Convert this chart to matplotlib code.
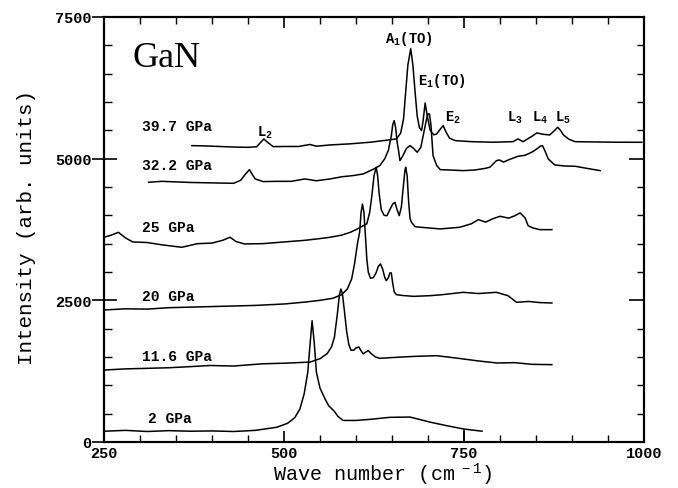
import numpy as np
import matplotlib.pyplot as plt
from matplotlib.ticker import MultipleLocator

plt.rcParams['mathtext.default'] = 'regular'
MONO = 'Liberation Mono'

# spectra (wave number, intensity incl. vertical offset)
x_2 = [250, 280, 310, 340, 370, 400, 430, 460, 490, 505, 515, 522, 528, 533, 536, 539,
       542, 545, 550, 557, 562, 566, 570, 575, 582, 600, 620, 647, 675, 703, 725, 749, 775]
y_2 = [190, 205, 185, 200, 190, 195, 185, 205, 260, 330, 430, 580, 850, 1230, 1700, 2140,
       1750, 1230, 950, 760, 640, 590, 540, 450, 380, 380, 400, 435, 440, 350, 290, 230, 190]

x_11 = [250, 280, 310, 340, 370, 397, 430, 470, 500, 536, 550, 560, 566, 570, 574, 577, 579,
        581, 584, 587, 590, 593, 597, 600, 604, 607, 610, 614, 617, 621, 627, 633, 650, 680,
        712, 740, 770, 796, 820, 845, 872]
y_11 = [1270, 1290, 1300, 1310, 1330, 1350, 1340, 1380, 1390, 1410, 1470, 1560, 1680, 1850,
        2250, 2600, 2700, 2620, 2300, 1950, 1720, 1620, 1620, 1660, 1675, 1610, 1555, 1590,
        1612, 1560, 1500, 1476, 1490, 1510, 1523, 1480, 1430, 1394, 1400, 1370, 1365]

x_20 = [250, 280, 310, 340, 370, 400, 430, 460, 501, 530, 550, 568, 580, 588, 594, 598, 602,
        605, 607, 609, 611, 613, 615, 617, 620, 624, 628, 631, 634, 637, 640, 642, 645, 647,
        649, 651, 653, 656, 665, 680, 703, 720, 749, 770, 795, 811, 823, 840, 855, 872]
y_20 = [2330, 2350, 2345, 2370, 2380, 2390, 2400, 2410, 2436, 2470, 2500, 2536, 2600, 2700,
        2880, 3150, 3500, 3700, 4050, 4200, 4050, 3650, 3230, 3000, 2890, 2900, 2990, 3100,
        3142, 3050, 2900, 2847, 2900, 2983, 2983, 2800, 2650, 2600, 2585, 2570, 2582, 2600,
        2641, 2620, 2641, 2582, 2465, 2480, 2460, 2453]

x_25 = [250, 260, 270, 280, 290, 310, 330, 358, 380, 400, 415, 425, 433, 445, 470, 500, 530,
        550, 564, 580, 592, 602, 610, 615, 619, 622, 625, 628, 630, 632, 635, 639, 643, 647,
        651, 654, 657, 660, 663, 666, 668, 669, 671, 673, 675, 677, 682, 690, 717, 744, 760,
        770, 780, 790, 800, 812, 820, 828, 835, 839, 845, 855, 872]
y_25 = [3613, 3650, 3700, 3600, 3530, 3520, 3480, 3436, 3500, 3510, 3560, 3613, 3540, 3495,
        3500, 3530, 3560, 3590, 3613, 3650, 3700, 3760, 3817, 3850, 4054, 4347, 4700, 4848,
        4700, 4400, 4100, 4000, 3994, 4100, 4200, 4230, 4100, 3994, 4150, 4550, 4800, 4848,
        4700, 4250, 3950, 3877, 3800, 3789, 3760, 3789, 3850, 3924, 3880, 3940, 3983, 3950,
        3990, 4042, 3950, 3818, 3780, 3747, 3747]

x_32 = [312, 330, 350, 370, 390, 410, 430, 440, 446, 452, 456, 460, 471, 490, 510, 529, 545,
        564, 580, 595, 610, 625, 633, 640, 645, 649, 651, 653, 655, 657, 659, 661, 665, 670,
        675, 680, 685, 690, 694, 698, 700, 702, 704, 707, 712, 717, 730, 749, 765, 780, 786,
        790, 795, 799, 805, 812, 825, 835, 845, 852, 856, 859, 862, 867, 876, 890, 905, 920, 939]
y_32 = [4583, 4600, 4590, 4580, 4575, 4570, 4565, 4620, 4720, 4806, 4720, 4642, 4595, 4600,
        4600, 4642, 4610, 4642, 4680, 4700, 4730, 4820, 4877, 5000, 5150, 5400, 5600, 5671,
        5550, 5300, 5150, 4965, 5050, 5180, 5230, 5180, 5113, 5200, 5450, 5700, 5789, 5789,
        5600, 5053, 4880, 4806, 4800, 4789, 4800, 4830, 4850, 4900, 4965, 4977, 4940, 4980,
        5042, 5060, 5120, 5180, 5220, 5230, 5150, 4995, 4889, 4870, 4865, 4830, 4789]

x_39 = [372, 390, 410, 430, 450, 462, 467, 472, 477, 485, 500, 520, 536, 545, 564, 590, 620,
        645, 656, 662, 666, 669, 672, 676, 679, 682, 685, 688, 691, 693, 696, 699, 703, 708,
        712, 717, 721, 725, 730, 738, 760, 790, 818, 825, 832, 845, 851, 860, 869, 876, 880,
        884, 888, 895, 904, 930, 960, 997]
y_39 = [5230, 5225, 5215, 5205, 5200, 5210, 5280, 5348, 5290, 5212, 5215, 5215, 5250, 5220,
        5242, 5260, 5290, 5330, 5348, 5450, 5700, 6180, 6650, 6940, 6650, 6180, 5750, 5550,
        5495, 5650, 5983, 5750, 5500, 5420, 5436, 5520, 5583, 5470, 5360, 5318, 5300, 5290,
        5300, 5348, 5300, 5400, 5454, 5430, 5418, 5500, 5554, 5500, 5420, 5348, 5300, 5295,
        5290, 5289]

spectra = [(x_2, y_2), (x_11, y_11), (x_20, y_20), (x_25, y_25), (x_32, y_32), (x_39, y_39)]

# pressure labels: text, left x, baseline y
pressures = ['2 GPa', '11.6 GPa', '20 GPa', '25 GPa', '32.2 GPa', '39.7 GPa']
press_x = [311, 303, 303, 303, 303, 303]
press_y = [347, 1447, 2506, 3730, 4818, 5507]

# mode labels
modes = ['A$_1$(TO)', 'E$_1$(TO)', 'E$_2$', 'L$_2$', 'L$_3$', 'L$_4$', 'L$_5$']
mode_x = [640, 686, 724, 462, 810, 844, 876]
mode_y = [7051, 6319, 5666, 5401, 5666, 5666, 5666]

fig = plt.figure(figsize=(6.78, 4.89), dpi=100)
ax = fig.add_axes([0.1534, 0.0941, 0.7965, 0.8691])

for xs, ys in spectra:
    ax.plot(xs, ys, color='black', lw=1.1)

# little vertical stroke under the 2 GPa trace at 750
ax.vlines(750, 0, np.interp(750, x_2, y_2), color='black', lw=1.1)

for t, x, y in zip(pressures, press_x, press_y):
    ax.text(x, y, t, family=MONO, weight='bold', fontsize=10.5, va='baseline')
for t, x, y in zip(modes, mode_x, mode_y):
    ax.text(x, y, t, family=MONO, weight='bold', fontsize=10, va='baseline')

ax.text(289, 6642, 'GaN', family='Liberation Serif', fontsize=26, va='baseline')

ax.set_xlim(250, 1000)
ax.set_ylim(0, 7500)
ax.xaxis.set_major_locator(MultipleLocator(250))
ax.xaxis.set_minor_locator(MultipleLocator(50))
ax.yaxis.set_major_locator(MultipleLocator(2500))
ax.yaxis.set_minor_locator(MultipleLocator(500))

ax.tick_params(axis='x', which='both', direction='in', top=True, bottom=True)
ax.tick_params(axis='x', which='major', length=8, width=1.2, pad=3)
ax.tick_params(axis='x', which='minor', length=5, width=1.0)
ax.tick_params(axis='y', which='major', direction='inout', length=18, width=1.2, pad=0, right=False)
ax.tick_params(axis='y', which='minor', direction='in', length=6, width=1.0, right=False)

# right-hand ticks, inward only
ax2 = ax.twinx()
ax2.set_ylim(0, 7500)
ax2.yaxis.set_major_locator(MultipleLocator(2500))
ax2.yaxis.set_minor_locator(MultipleLocator(500))
ax2.tick_params(axis='y', which='major', direction='in', length=11, width=1.2, labelright=False)
ax2.tick_params(axis='y', which='minor', direction='in', length=5, width=1.0)

for lab in ax.get_xticklabels() + ax.get_yticklabels():
    lab.set_family(MONO)
    lab.set_weight('bold')
    lab.set_fontsize(11)

for a in (ax, ax2):
    for s in a.spines.values():
        s.set_linewidth(1.5)

ax.set_xlabel('Wave number (cm$^{\\ -1}$)', family=MONO, fontsize=14.5, va='baseline')
ax.xaxis.set_label_coords(0.516, -0.09)
ax.set_ylabel('Intensity (arb. units)', family=MONO, fontsize=15, va='center')
ax.yaxis.set_label_coords(-0.143, 0.507)

fig.savefig('out.png', dpi=100)
